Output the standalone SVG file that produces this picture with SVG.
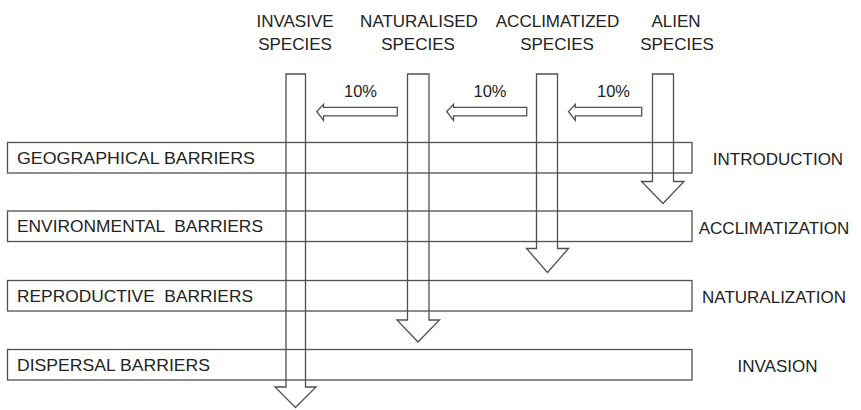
<svg xmlns="http://www.w3.org/2000/svg" width="861" height="410" viewBox="0 0 861 410">
<style>
.ln{fill:none;stroke:#505050;stroke-width:1.3;stroke-linejoin:miter}
.t{font-family:"Liberation Sans",Arial,sans-serif;font-size:16.5px;fill:#222}
.h{font-family:"Liberation Sans",Arial,sans-serif;font-size:17px;fill:#222;text-anchor:middle}
.p{font-family:"Liberation Sans",Arial,sans-serif;font-size:16.5px;fill:#222;text-anchor:middle}
</style>
<rect width="861" height="410" fill="#fff"/>
<g id="barrier-geographical">
<rect class="ln" x="7.5" y="142.5" width="684.5" height="30.5"/>
<text class="t" x="17" y="163.5" textLength="238" lengthAdjust="spacingAndGlyphs">GEOGRAPHICAL BARRIERS</text>
</g>
<g id="barrier-environmental">
<rect class="ln" x="7.5" y="211" width="684.5" height="30.5"/>
<text class="t" x="17" y="232" textLength="246" lengthAdjust="spacingAndGlyphs" xml:space="preserve">ENVIRONMENTAL  BARRIERS</text>
</g>
<g id="barrier-reproductive">
<rect class="ln" x="7.5" y="280.5" width="684.5" height="30.5"/>
<text class="t" x="17" y="301.5" textLength="236" lengthAdjust="spacingAndGlyphs" xml:space="preserve">REPRODUCTIVE  BARRIERS</text>
</g>
<g id="barrier-dispersal">
<rect class="ln" x="7.5" y="349.5" width="684.5" height="30.5"/>
<text class="t" x="17" y="370.5" textLength="193" lengthAdjust="spacingAndGlyphs">DISPERSAL BARRIERS</text>
</g>
<g id="stage-introduction"><text class="h" x="778" y="165">INTRODUCTION</text></g>
<g id="stage-acclimatization"><text class="h" x="774" y="233.5">ACCLIMATIZATION</text></g>
<g id="stage-naturalization"><text class="h" x="774" y="302.5">NATURALIZATION</text></g>
<g id="stage-invasion"><text class="h" x="777.5" y="371.5">INVASION</text></g>
<g id="species-invasive"><text class="h" x="295" y="26.5">INVASIVE</text><text class="h" x="295" y="50">SPECIES</text></g>
<g id="species-naturalised"><text class="h" x="419" y="26.5">NATURALISED</text><text class="h" x="418" y="50">SPECIES</text></g>
<g id="species-acclimatized"><text class="h" x="557.5" y="26.5">ACCLIMATIZED</text><text class="h" x="557" y="50">SPECIES</text></g>
<g id="species-alien"><text class="h" x="676" y="26.5">ALIEN</text><text class="h" x="677" y="50">SPECIES</text></g>
<g id="connectors">
<path class="ln" d="M286,74 H305.5 V387 H316 L295.5,407.5 L275,387 H286 Z"/>
<path class="ln" d="M407.5,74 H429 V320 H439.5 L418,342 L397,320 H407.5 Z"/>
<path class="ln" d="M536.5,74 H557.5 V248.5 H568.5 L547.5,272.5 L526.5,248.5 H536.5 Z"/>
<path class="ln" d="M652.5,74 H673.5 V181.5 H684 L663,203.5 L641.5,181.5 H652.5 Z"/>
<path class="ln" d="M397.3,107.3 V115.8 H323.5 V120.3 L316.7,111.5 L323.5,104.3 V107.3 Z"/>
<path class="ln" d="M526.7,107.3 V115.8 H453.5 V120.3 L446.7,111.5 L453.5,104.3 V107.3 Z"/>
<path class="ln" d="M641.7,107.3 V115.8 H575.3 V120.3 L568.5,111.5 L575.3,104.3 V107.3 Z"/>
<text class="p" x="360.5" y="96.5">10%</text>
<text class="p" x="490" y="96.5">10%</text>
<text class="p" x="613.5" y="96.5">10%</text>
</g>
</svg>
